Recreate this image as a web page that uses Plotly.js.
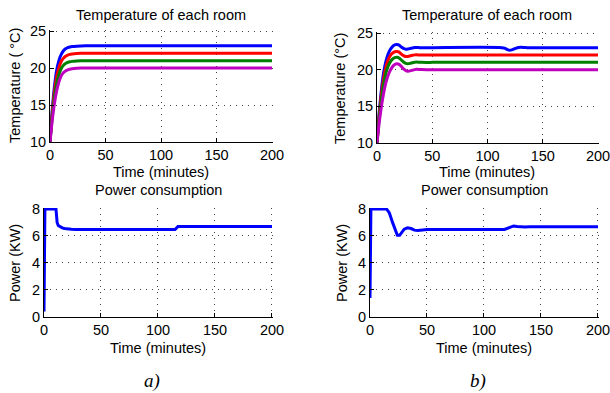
<!DOCTYPE html>
<html><head><meta charset="utf-8">
<script src="https://cdn.plot.ly/plotly-3.0.1.min.js"></script>
<style>html,body{margin:0;padding:0;background:#fff}#plot{width:610px;height:393px}</style>
</head><body><div id="plot"></div>
<script>
// Panel a) temperatures
const tA = [0,2,4,6,8,10,12,14,16,18,20,24,28,32,200];
const blueA    = [10,14.3,17.5,19.7,21.0,21.8,22.3,22.6,22.75,22.85,22.9,22.96,22.99,23,23];
const redA     = [10,13.9,16.8,18.8,20.0,20.85,21.3,21.6,21.75,21.85,21.9,21.96,21.99,22,22];
const greenA   = [10,13.4,16.0,17.9,19.1,19.9,20.35,20.6,20.76,20.85,20.9,20.96,20.99,21,21];
const magentaA = [10,12.9,15.2,16.9,18.1,18.9,19.35,19.6,19.75,19.84,19.9,19.96,19.99,20,20];

// Panel b) temperatures
const tB = [0,2,4,6,8,10,12,14,16,18,20,22,24,26,28,30,32,34,36,38,40,45,50,113,116,118,120,122,124,126,128,130,133,136,140,200];
const blueB    = [10,14.2,17.3,19.6,21.1,22.1,22.75,23.15,23.38,23.42,23.35,23.1,22.9,22.8,22.82,22.9,22.97,23.02,23.03,23.01,22.99,22.98,23,23,22.9,22.75,22.65,22.7,22.82,22.95,23.04,23.06,23.04,23.0,22.99,23];
const redB     = [10,13.8,16.7,18.8,20.3,21.3,21.9,22.25,22.45,22.48,22.4,22.12,21.92,21.8,21.8,21.88,21.96,22.02,22.03,22.01,22.0,21.99,22,22,22,22,22,22,22,22,22,22,22,22,22,22];
const greenB   = [10,13.4,16.0,18.0,19.5,20.45,21.05,21.45,21.65,21.7,21.6,21.32,21.05,20.85,20.8,20.86,20.95,21.02,21.04,21.02,21.0,20.99,21,21,21,21,21,21,21,21,21,21,21,21,21,21];
const magentaB = [10,12.8,15.0,16.8,18.2,19.2,19.9,20.4,20.7,20.8,20.72,20.45,20.1,19.88,19.8,19.84,19.93,20.01,20.05,20.04,20.01,19.99,20,20,20,20,20,20,20,20,20,20,20,20,20,20];

// Power
const tPA = [0,0.8,10.5,11.5,12.5,14,16,18,20,24,28,32,40,115,116.5,117.5,200];
const pA  = [0.4,8,8,7.0,6.78,6.68,6.6,6.55,6.52,6.49,6.47,6.46,6.47,6.47,6.6,6.7,6.7];
const tPB = [0,0.8,14.5,17,20,22,24,26,28,30,33,36,39,42,46,50,118,121,124,126,129,132,136,140,200];
const pB  = [1.4,8,8,7.7,6.95,6.45,6.05,6.05,6.3,6.5,6.6,6.55,6.43,6.4,6.44,6.48,6.48,6.6,6.72,6.74,6.7,6.66,6.66,6.68,6.68];

const xTicks = [0,50,100,150,200];
const tempTicks = [10,15,20,25];
const powTicks = [0,2,4,6,8];

const colors = {blue:'#0000ff', red:'#ff0000', green:'#008000', magenta:'#bf00bf'};
const FONT = 'Liberation Sans, Arial, sans-serif';
const LW = 3;

function tr(x,y,c,xa,ya,shape){
  return {x:x,y:y,type:'scatter',mode:'lines',xaxis:xa,yaxis:ya,cliponaxis:false,
    line:{color:c,width:LW,shape:shape||'spline',smoothing:0.6},hoverinfo:'skip',showlegend:false};
}
const data = [
  tr(tA,blueA,colors.blue,'x','y'), tr(tA,redA,colors.red,'x','y'),
  tr(tA,greenA,colors.green,'x','y'), tr(tA,magentaA,colors.magenta,'x','y'),
  tr(tB,blueB,colors.blue,'x2','y2'), tr(tB,redB,colors.red,'x2','y2'),
  tr(tB,greenB,colors.green,'x2','y2'), tr(tB,magentaB,colors.magenta,'x2','y2'),
  tr(tPA,pA,colors.blue,'x3','y3','linear'),
  tr(tPB,pB,colors.blue,'x4','y4','linear')
];

function ax(domain, range, ticks, anchor){
  return {domain:domain, range:range, tickvals:ticks, ticktext:ticks.map(String), anchor:anchor,
    showline:true, linecolor:'#000', linewidth:1, mirror:false,
    ticks:'inside', ticklen:4, tickcolor:'#000', tickwidth:1,
    showgrid:true, gridcolor:'#444', gridwidth:1, griddash:'1px,5px', zeroline:false,
    ticklabeloverflow:'allow',
    tickfont:{family:FONT,size:14.5,color:'#000'}, fixedrange:true};
}
const W=610,H=393;
const dx=(a,b)=>[a/W,b/W];
const dy=(top,bot)=>[(H-bot)/H,(H-top)/H];

function ann(text,x,y,opts){
  return Object.assign({text:text,x:x/W,y:(H-y)/H,xref:'paper',yref:'paper',showarrow:false,
    xanchor:'center',yanchor:'middle',font:{family:FONT,size:14.5,color:'#000'}},opts||{});
}
const serif = {family:'Liberation Serif, Times New Roman, serif',size:19,color:'#000',style:'italic'};
const annotations = [
  ann('Temperature of each room',161,15),
  ann('Temperature of each room',487,15),
  ann('Time (minutes)',161,172),
  ann('Time (minutes)',487,172),
  ann('Power consumption',158,190),
  ann('Power consumption',484,190),
  ann('Time (minutes)',158,348),
  ann('Time (minutes)',484,348),
  ann('Temperature ( °C)',15,86,{textangle:-90}),
  ann('Temperature (°C)',340,88,{textangle:-90}),
  ann('Power (KW)',15,263,{textangle:-90}),
  ann('Power (KW)',342,263,{textangle:-90}),
  ann('a)',152,381,{font:serif}),
  ann('b)',478,381,{font:serif})
];

const layout = {
  width:W, height:H, margin:{l:0,r:0,t:0,b:0}, paper_bgcolor:'#fff', plot_bgcolor:'#fff',
  showlegend:false,
  xaxis: ax(dx(50,273),[0,200.9],xTicks,'y'),
  yaxis: ax(dy(30,142),[10,25.14],tempTicks,'x'),
  xaxis2: ax(dx(377,599),[0,200.9],xTicks,'y2'),
  yaxis2: ax(dy(32,143),[10,25.14],tempTicks,'x2'),
  xaxis3: ax(dx(44,273),[0,200.9],xTicks,'y3'),
  yaxis3: ax(dy(208,317),[0,8.07],powTicks,'x3'),
  xaxis4: ax(dx(370,599),[0,200.9],xTicks,'y4'),
  yaxis4: ax(dy(208,317),[0,8.07],powTicks,'x4'),
  annotations: annotations
};
Plotly.newPlot('plot',data,layout,{displayModeBar:false,staticPlot:true});
</script></body></html>
